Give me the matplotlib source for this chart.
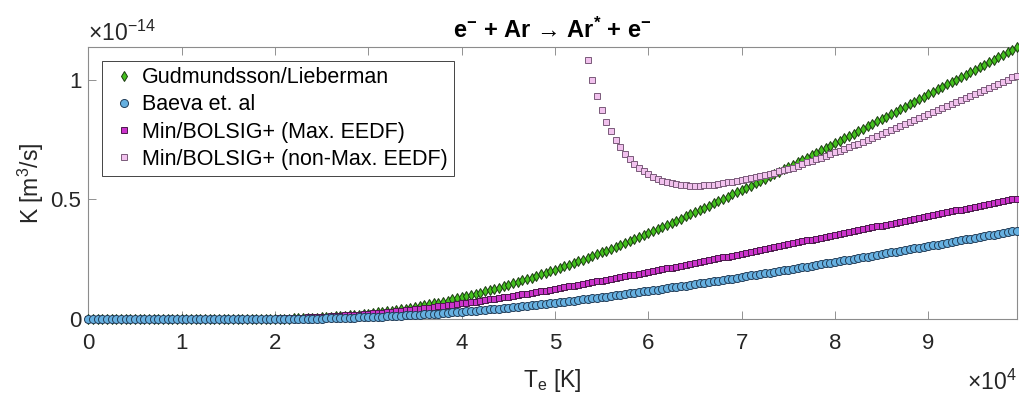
import numpy as np
import matplotlib
matplotlib.use("Agg")
import matplotlib.pyplot as plt

# Electron temperature grid [K], one point every 500 K from 0 to 99500 K
T_e = np.arange(0, 99501, 500)
# Non-Maxwellian BOLSIG+ curve only visible from 53500 K (above the axis before)
T_e_nonmax = np.arange(53500, 99501, 500)

# Rate coefficients, in units of 1e-17 m^3/s
K_gudmundsson = [
    0, 0, 0, 0, 0, 0, 0, 0, 0, 0, 0, 0, 0, 0, 0, 0, 0, 0, 0, 0,
    0, 0, 0, 0, 0, 0, 0, 0, 0, 0, 0, 0, 0, 0, 0, 1, 1, 1, 1, 1,
    2, 2, 3, 3, 4, 4, 5, 6, 7, 7, 8, 10, 11, 12, 13, 15, 17, 18, 20, 22,
    24, 26, 29, 31, 34, 36, 39, 42, 45, 48, 52, 55, 59, 62, 66, 70, 74, 78, 83, 87,
    92, 96, 101, 106, 111, 116, 121, 127, 132, 138, 144, 150, 155, 162, 168, 174, 180, 187, 193, 200,
    207, 214, 221, 228, 235, 242, 249, 257, 264, 272, 280, 287, 295, 303, 311, 319, 327, 335, 343, 352,
    360, 369, 377, 386, 394, 403, 412, 420, 429, 438, 447, 456, 465, 474, 484, 493, 502, 511, 521, 530,
    539, 549, 558, 568, 577, 587, 597, 606, 616, 626, 636, 645, 655, 665, 675, 685, 695, 705, 715, 725,
    735, 745, 755, 765, 775, 785, 795, 805, 815, 826, 836, 846, 856, 866, 877, 887, 897, 907, 918, 928,
    938, 949, 959, 969, 980, 990, 1000, 1011, 1021, 1031, 1042, 1052, 1063, 1073, 1083, 1094, 1104, 1114, 1125, 1135,
]
K_baeva = [
    0, 0, 0, 0, 0, 0, 0, 0, 0, 0, 0, 0, 0, 0, 0, 0, 0, 0, 0, 0,
    0, 0, 0, 0, 0, 0, 0, 0, 0, 0, 0, 0, 0, 0, 0, 0, 0, 0, 1, 1,
    1, 1, 1, 1, 1, 2, 2, 2, 3, 3, 3, 4, 4, 5, 5, 6, 6, 7, 8, 8,
    9, 10, 10, 11, 12, 13, 14, 15, 16, 17, 18, 19, 21, 22, 23, 24, 26, 27, 29, 30,
    32, 33, 35, 36, 38, 40, 41, 43, 45, 47, 49, 51, 53, 55, 57, 59, 61, 63, 65, 67,
    69, 72, 74, 76, 78, 81, 83, 85, 88, 90, 93, 95, 98, 100, 103, 105, 108, 111, 113, 116,
    119, 121, 124, 127, 130, 133, 135, 138, 141, 144, 147, 150, 153, 156, 158, 161, 164, 167, 170, 173,
    176, 179, 183, 186, 189, 192, 195, 198, 201, 204, 207, 211, 214, 217, 220, 223, 227, 230, 233, 236,
    239, 243, 246, 249, 253, 256, 259, 262, 266, 269, 272, 276, 279, 282, 286, 289, 292, 296, 299, 302,
    306, 309, 312, 316, 319, 323, 326, 329, 333, 336, 340, 343, 346, 350, 353, 357, 360, 363, 367, 370,
]
K_min_max = [
    0, 0, 0, 0, 0, 0, 0, 0, 0, 0, 0, 0, 0, 0, 0, 0, 0, 0, 0, 0,
    0, 0, 0, 0, 0, 0, 0, 0, 0, 0, 0, 1, 1, 1, 1, 1, 2, 2, 2, 3,
    3, 4, 4, 5, 5, 6, 7, 8, 8, 9, 10, 11, 12, 14, 15, 16, 17, 19, 20, 22,
    23, 25, 27, 28, 30, 32, 34, 36, 38, 40, 42, 44, 47, 49, 51, 54, 56, 59, 61, 64,
    66, 69, 72, 74, 77, 80, 83, 86, 89, 92, 95, 98, 101, 104, 107, 110, 114, 117, 120, 123,
    127, 130, 133, 137, 140, 144, 147, 151, 154, 158, 161, 165, 168, 172, 175, 179, 183, 186, 190, 194,
    197, 201, 205, 209, 212, 216, 220, 224, 228, 231, 235, 239, 243, 247, 251, 254, 258, 262, 266, 270,
    274, 278, 282, 285, 289, 293, 297, 301, 305, 309, 313, 317, 321, 325, 329, 332, 336, 340, 344, 348,
    352, 356, 360, 364, 368, 372, 376, 380, 384, 388, 391, 395, 399, 403, 407, 411, 415, 419, 423, 427,
    431, 435, 438, 442, 446, 450, 454, 458, 462, 466, 470, 473, 477, 481, 485, 489, 493, 497, 500, 504,
]
K_min_nonmax = [
    1080, 997, 932, 873, 823, 784, 749, 717, 690, 668, 648, 631, 617, 605, 595, 586, 578, 572, 568, 564,
    561, 560, 558, 558, 558, 560, 561, 562, 565, 568, 571, 574, 577, 580, 585, 589, 593, 597, 603, 607,
    611, 617, 622, 628, 633, 640, 649, 655, 662, 669, 675, 682, 689, 696, 704, 711, 718, 726, 733, 741,
    749, 757, 764, 772, 780, 789, 797, 805, 813, 822, 830, 838, 847, 855, 864, 872, 881, 889, 898, 906,
    915, 924, 932, 941, 949, 958, 966, 975, 983, 992, 1000, 1009, 1017,
]

labels = [
    "Gudmundsson/Lieberman",
    "Baeva et. al",
    "Min/BOLSIG+ (Max. EEDF)",
    "Min/BOLSIG+ (non-Max. EEDF)",
]
x_ticks = list(range(10))
y_ticks = [0, 0.5, 1]
y_tick_labels = ["0", "0.5", "1"]


def dibujar() -> None:
    plt.rcParams["font.family"] = ["Liberation Sans", "DejaVu Sans"]
    plt.rcParams["mathtext.fontset"] = "custom"
    plt.rcParams["mathtext.rm"] = "Liberation Sans"
    plt.rcParams["mathtext.it"] = "Liberation Sans:italic"
    plt.rcParams["mathtext.bf"] = "Liberation Sans:bold"

    fig = plt.figure(figsize=(10.19, 3.94), dpi=100)
    ax = fig.add_axes([0.0867, 0.1896, 0.9113, 0.6904])

    # axes in units of 1e4 K and 1e-14 m^3/s (MATLAB style exponent labels)
    x = T_e / 1e4
    x_nm = T_e_nonmax / 1e4
    k = lambda v: np.asarray(v) / 1000.0

    h_g, = ax.plot(x, k(K_gudmundsson), "d", ms=5.6, mfc="#44c01e", mec="#1a3a10",
                   mew=0.7, clip_on=False, zorder=3)
    h_m, = ax.plot(x, k(K_min_max), "s", ms=5.0, mfc="#cc33cc", mec="#4a1a4a",
                   mew=0.7, clip_on=False, zorder=4)
    h_p, = ax.plot(x_nm, k(K_min_nonmax), "s", ms=5.0, mfc="#f2c2ee", mec="#7a5a7a",
                   mew=0.7, clip_on=False, zorder=5)
    h_b, = ax.plot(x, k(K_baeva), "o", ms=5.8, mfc="#66b0e0", mec="#243f5a",
                   mew=0.7, clip_on=False, zorder=6)

    ax.set_xlim(0, x[-1])
    ax.set_ylim(0, k(K_gudmundsson).max())
    ax.set_xticks(x_ticks)
    ax.set_xticklabels([str(t) for t in x_ticks])
    ax.set_yticks(y_ticks)
    ax.set_yticklabels(y_tick_labels)
    ax.tick_params(direction="in", length=6, width=0.6, color="#808080",
                   labelcolor="#262626", labelsize=16, top=True, right=True)
    ax.tick_params(axis="x", pad=10)
    ax.tick_params(axis="y", pad=5)
    for s in ax.spines.values():
        s.set_color("#8c8c8c")
        s.set_linewidth(0.8)

    ax.set_ylabel("K [m$^3$/s]", fontsize=16.5, color="#262626", labelpad=3)
    ax.set_xlabel(r"T$_\mathrm{e}$ [K]", fontsize=16.5, color="#262626")
    ax.xaxis.set_label_coords(0.5, -0.175)
    ax.set_title(r"e$^{\mathbf{-}}$ + Ar → Ar$^{\mathbf{*}}$ + e$^{\mathbf{-}}$",
                 fontsize=17, fontweight="bold", pad=7)
    ax.text(0.0, 1.025, r"$\times10^{-14}$", transform=ax.transAxes, fontsize=16.5,
            color="#262626", va="baseline", ha="left")
    ax.text(1.0, -0.258, r"$\times10^{4}$", transform=ax.transAxes, fontsize=16.5,
            color="#262626", va="baseline", ha="right")

    leg = ax.legend([h_g, h_b, h_m, h_p], labels,
                    loc="upper left", bbox_to_anchor=(0.0144, 0.9496), borderaxespad=0,
                    fontsize=15.5, numpoints=1, handlelength=1.45, handletextpad=0.1,
                    labelspacing=0.28, borderpad=0.3, fancybox=False, framealpha=1)
    leg.get_frame().set_edgecolor("#262626")
    leg.get_frame().set_linewidth(0.6)

    fig.savefig("out.png")
    plt.close(fig)


if __name__ == "__main__":
    dibujar()
